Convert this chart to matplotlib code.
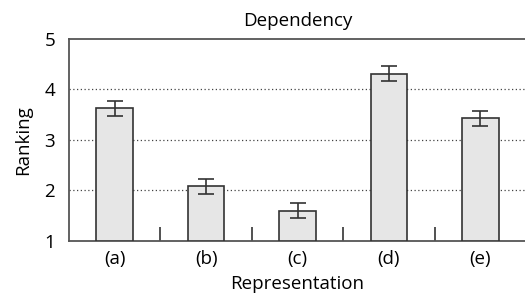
import numpy as np
import matplotlib.pyplot as plt

plt.rcParams['font.family'] = ['Open Sans', 'DejaVu Sans']

categories = ['(a)', '(b)', '(c)', '(d)', '(e)']
ranking = [3.62, 2.08, 1.59, 4.31, 3.42]
err = [0.15, 0.15, 0.15, 0.155, 0.15]

fig = plt.figure(figsize=(5.25, 2.96), dpi=100)
ax = fig.add_axes([69 / 525, 1 - 240.7 / 296, 1 - 69 / 525 + 0.002, (240.7 - 38.7) / 296])

x = np.arange(len(categories))
ax.bar(x, np.array(ranking) - 1, bottom=1, width=0.4, color='#e6e6e6',
       edgecolor='#333333', linewidth=1.2, zorder=3)
ax.errorbar(x, ranking, yerr=err, fmt='none', ecolor='#333333',
            elinewidth=1.2, capsize=6, capthick=1.2, zorder=4)

ax.set_xlim(-0.5, 4.5)
ax.set_ylim(1, 5)
ax.set_yticks([1, 2, 3, 4, 5])
ax.set_xticks(x)
ax.set_xticklabels(categories)
ax.set_xticks(np.arange(0.5, 4.5, 1), minor=True)
ax.tick_params(axis='x', which='major', length=0, pad=7, labelsize=13.5)
ax.tick_params(axis='x', which='minor', direction='in', length=10,
               width=1.2, color='#333333')
ax.tick_params(axis='y', length=0, pad=10, labelsize=13.5)

for v in [2, 3, 4]:
    ax.axhline(v, color='#444444', linestyle=(0, (1, 2)), linewidth=0.9, zorder=1)

for s in ['left', 'bottom', 'top']:
    ax.spines[s].set_color('#555555')
    ax.spines[s].set_linewidth(1.3)
ax.spines['right'].set_visible(False)

ax.set_title('Dependency', fontsize=13.5, pad=9)
ax.set_ylabel('Ranking', fontsize=13.5, labelpad=9)
ax.set_xlabel('Representation', fontsize=13.5, labelpad=5)

fig.savefig('out.png', dpi=100)
